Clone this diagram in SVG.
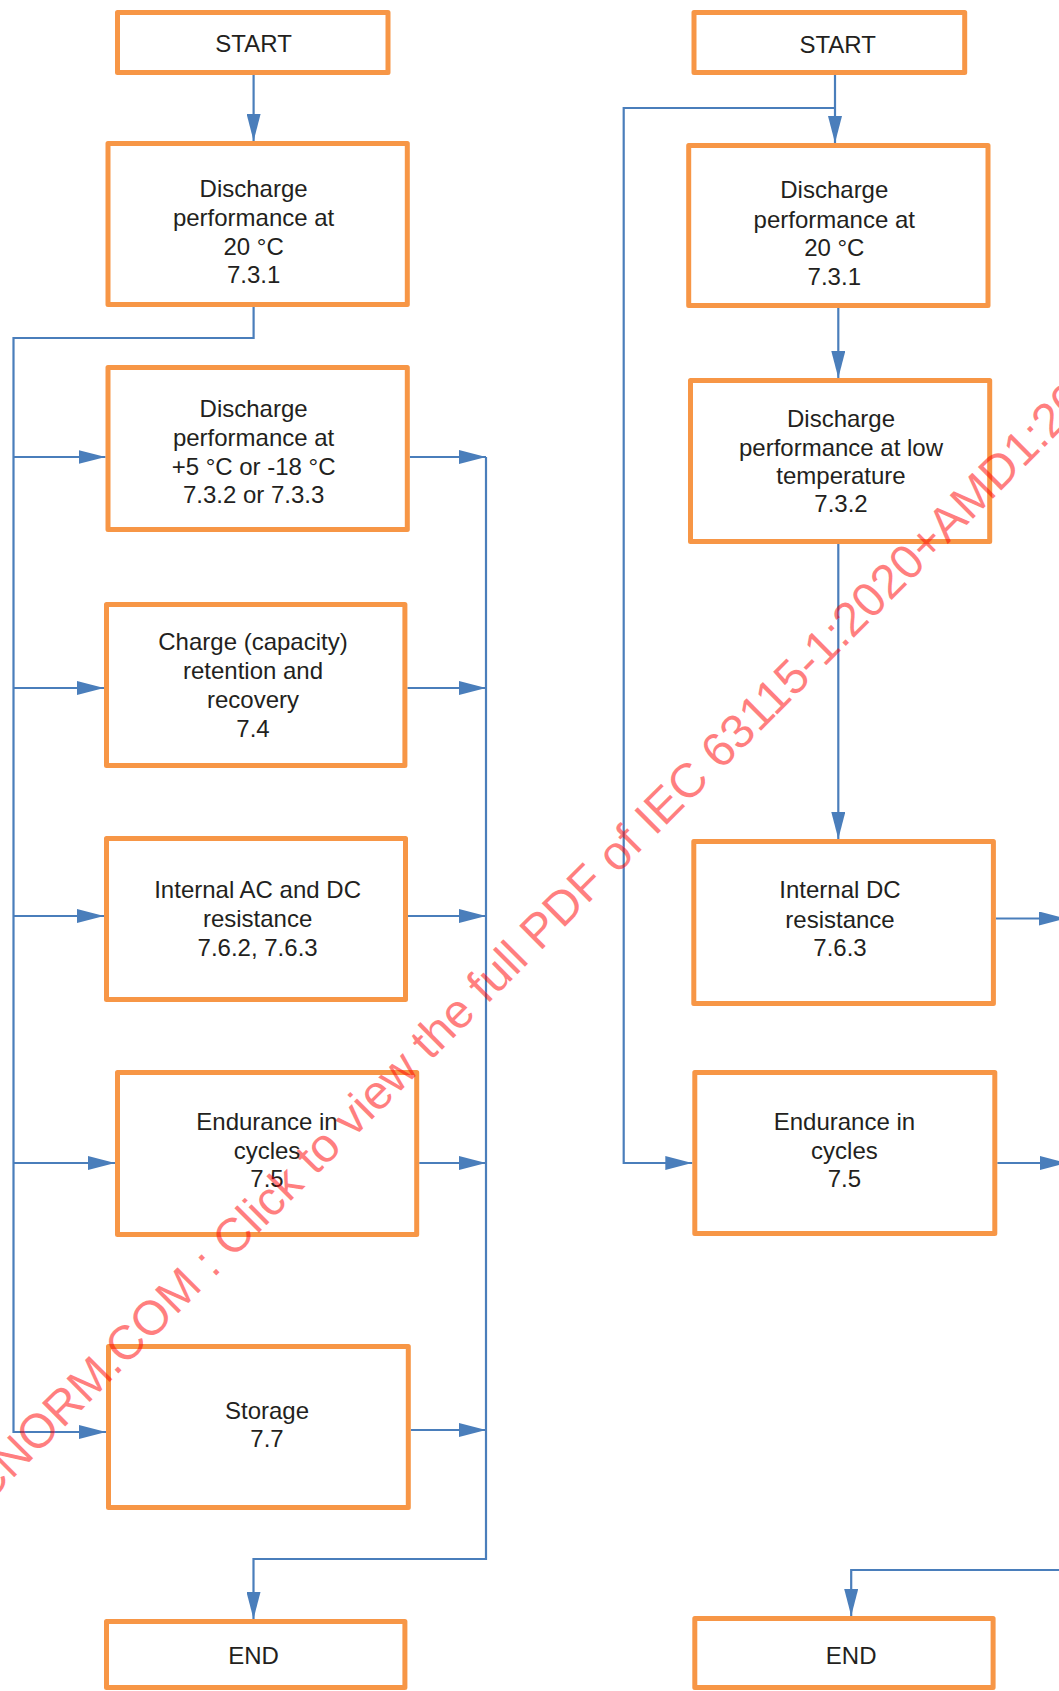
<svg xmlns="http://www.w3.org/2000/svg" width="1059" height="1691" viewBox="0 0 1059 1691">
<defs>
<style>
.box{fill:#ffffff;stroke:#f79646;stroke-width:5;stroke-linejoin:round}
.lbl{font-family:"Liberation Sans",Arial,sans-serif;font-size:24px;fill:#231f20;text-anchor:middle}
.con{fill:none;stroke:#4a7ebb;stroke-width:2.2}
.wm{font-family:"Liberation Sans",Arial,sans-serif;font-size:48px;fill:#ff0000;fill-opacity:0.5}
</style>
<marker id="ah" markerUnits="userSpaceOnUse" markerWidth="27" markerHeight="14" viewBox="0 0 27 14" refX="27" refY="7" orient="auto">
<path d="M0,0 L27,7 L0,14 Z" fill="#4a7ebb"/>
</marker>
</defs>
<rect width="1059" height="1691" fill="#ffffff"/>

<g id="connectors">
<path class="con" d="M253.6,75 V141" marker-end="url(#ah)"/>
<path class="con" d="M253.6,307 V338 H13.5 V1432 H106" marker-end="url(#ah)"/>
<path class="con" d="M13.5,457 H105.5" marker-end="url(#ah)"/>
<path class="con" d="M13.5,688 H104" marker-end="url(#ah)"/>
<path class="con" d="M13.5,916 H104" marker-end="url(#ah)"/>
<path class="con" d="M13.5,1163 H115" marker-end="url(#ah)"/>
<path class="con" d="M409.8,457 H486" marker-end="url(#ah)"/>
<path class="con" d="M407.4,688 H486" marker-end="url(#ah)"/>
<path class="con" d="M408,916 H486" marker-end="url(#ah)"/>
<path class="con" d="M419.2,1163 H486" marker-end="url(#ah)"/>
<path class="con" d="M410.8,1430 H486" marker-end="url(#ah)"/>
<path class="con" d="M486,457 V1559 H253.5 V1619" marker-end="url(#ah)"/>

<path class="con" d="M835,75 V143" marker-end="url(#ah)"/>
<path class="con" d="M835,108 H623.7 V1163 H692.3" marker-end="url(#ah)"/>
<path class="con" d="M838.3,308 V378" marker-end="url(#ah)"/>
<path class="con" d="M838.3,544 V839" marker-end="url(#ah)"/>
<path class="con" d="M995.9,918.5 H1066" marker-end="url(#ah)"/>
<path class="con" d="M997.3,1163 H1067" marker-end="url(#ah)"/>
<path class="con" d="M1075,1570 H851.2 V1616" marker-end="url(#ah)"/>
</g>

<g id="startL">
<rect class="box" x="117.5" y="12.5" width="270.5" height="60"/>
<text class="lbl" x="253.6" y="52">START</text>
</g>
<g id="dis20L">
<rect class="box" x="108" y="143.5" width="299.3" height="161"/>
<text class="lbl" x="253.6" y="197">Discharge</text>
<text class="lbl" x="253.6" y="226">performance at</text>
<text class="lbl" x="253.6" y="254.5">20 °C</text>
<text class="lbl" x="253.6" y="283">7.3.1</text>
</g>
<g id="dis5L">
<rect class="box" x="108" y="367.5" width="299.3" height="162"/>
<text class="lbl" x="253.6" y="417">Discharge</text>
<text class="lbl" x="253.6" y="446">performance at</text>
<text class="lbl" x="253.6" y="474.5">+5 °C or -18 °C</text>
<text class="lbl" x="253.6" y="503">7.3.2 or 7.3.3</text>
</g>
<g id="chargeL">
<rect class="box" x="106.5" y="604.5" width="298.4" height="161"/>
<text class="lbl" x="253" y="650">Charge (capacity)</text>
<text class="lbl" x="253" y="679">retention and</text>
<text class="lbl" x="253" y="708">recovery</text>
<text class="lbl" x="253" y="737">7.4</text>
</g>
<g id="internalL">
<rect class="box" x="106.5" y="838.5" width="299" height="161"/>
<text class="lbl" x="257.6" y="898">Internal AC and DC</text>
<text class="lbl" x="257.6" y="927">resistance</text>
<text class="lbl" x="257.6" y="956">7.6.2, 7.6.3</text>
</g>
<g id="enduranceL">
<rect class="box" x="117.5" y="1072.5" width="299.2" height="162"/>
<text class="lbl" x="267" y="1130">Endurance in</text>
<text class="lbl" x="267" y="1158.5">cycles</text>
<text class="lbl" x="267" y="1187">7.5</text>
</g>
<g id="storageL">
<rect class="box" x="108.5" y="1346.5" width="299.8" height="161"/>
<text class="lbl" x="267" y="1418.5">Storage</text>
<text class="lbl" x="267" y="1447">7.7</text>
</g>
<g id="endL">
<rect class="box" x="106.5" y="1621.5" width="298.4" height="66"/>
<text class="lbl" x="253.5" y="1664">END</text>
</g>

<g id="startR">
<rect class="box" x="694" y="12.5" width="270.7" height="60"/>
<text class="lbl" x="837.7" y="53">START</text>
</g>
<g id="dis20R">
<rect class="box" x="688.7" y="145.5" width="299.3" height="160"/>
<text class="lbl" x="834.3" y="198">Discharge</text>
<text class="lbl" x="834.3" y="227.5">performance at</text>
<text class="lbl" x="834.3" y="256">20 °C</text>
<text class="lbl" x="834.3" y="285">7.3.1</text>
</g>
<g id="disLowR">
<rect class="box" x="690.5" y="380.5" width="299.2" height="161"/>
<text class="lbl" x="841" y="427">Discharge</text>
<text class="lbl" x="841" y="455.5">performance at low</text>
<text class="lbl" x="841" y="483.5">temperature</text>
<text class="lbl" x="841" y="512">7.3.2</text>
</g>
<g id="internalR">
<rect class="box" x="693.8" y="841.5" width="299.6" height="162"/>
<text class="lbl" x="840" y="898">Internal DC</text>
<text class="lbl" x="840" y="927.5">resistance</text>
<text class="lbl" x="840" y="956">7.6.3</text>
</g>
<g id="enduranceR">
<rect class="box" x="694.8" y="1072.5" width="300" height="161"/>
<text class="lbl" x="844.4" y="1130">Endurance in</text>
<text class="lbl" x="844.4" y="1158.5">cycles</text>
<text class="lbl" x="844.4" y="1187">7.5</text>
</g>
<g id="endR">
<rect class="box" x="694.8" y="1618.5" width="298.3" height="69"/>
<text class="lbl" x="851.2" y="1664">END</text>
</g>

<g id="watermark">
<text class="wm" transform="translate(-45,1536.7) rotate(-45)">IECNORM.COM : Click to view the full PDF of IEC 63115-1:2020+AMD1:2022</text>
</g>
</svg>
